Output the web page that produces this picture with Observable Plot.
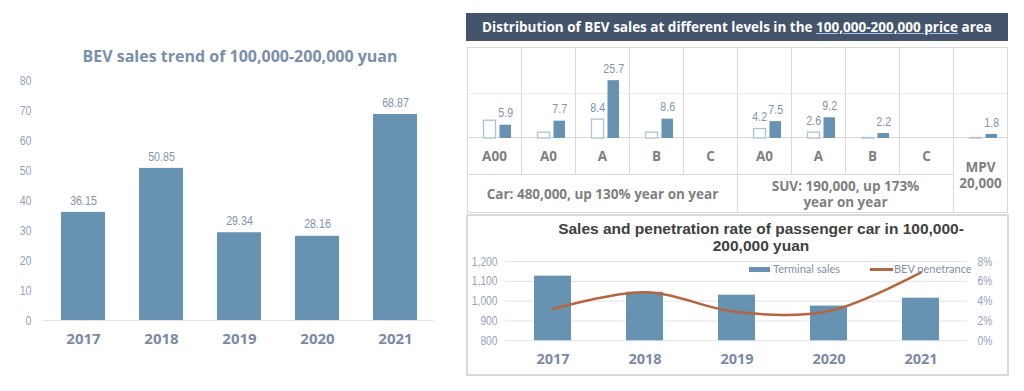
<!DOCTYPE html>
<html><head><meta charset="utf-8">
<script src="https://cdn.jsdelivr.net/npm/d3@7"></script>
<script src="https://cdn.jsdelivr.net/npm/@observablehq/plot@0.6"></script>
<style>
body{margin:0;width:1024px;height:391px;background:#fff;position:relative;overflow:hidden;font-family:"Open Sans",sans-serif;}
svg{overflow:visible;}
.cell{background:#fff;color:#7f7f7f;font:bold 13.5px "Open Sans",sans-serif;display:flex;align-items:center;justify-content:center;text-align:center;white-space:pre-line;line-height:16px;}
</style></head><body>
<script>
// ---------- data ----------
const years = ["2017", "2018", "2019", "2020", "2021"];
const bevSales = [36.15, 50.85, 29.34, 28.16, 68.87];
const leftTicks = [0, 10, 20, 30, 40, 50, 60, 70, 80];

const distCategories = ["A00", "A0", "A", "B", "C", "A0", "A", "B", "C", "MPV"];
const distGroups = ["Car", "Car", "Car", "Car", "Car", "SUV", "SUV", "SUV", "SUV", "MPV"];
const distPrev = [7.9, 2.6, 8.4, 2.6, 0, 4.2, 2.6, 0.2, 0, 0.2];
const distCurr = [5.9, 7.7, 25.7, 8.6, 0, 7.5, 9.2, 2.2, 0, 1.8];
const distPrevLabels = ["", "", "8.4", "", "", "4.2", "2.6", "", "", ""];
const groupNames = ["Car", "SUV", "MPV"];
const groupTexts = ["Car: 480,000, up 130% year on year", "SUV: 190,000, up 173%\nyear on year", "MPV\n20,000"];
const headerText = ["Distribution of BEV sales at different levels in the ", "100,000-200,000 price", " area"];

const terminalSales = [1126, 1045, 1030, 975, 1015];
const bevPenetration = [3.2, 4.9, 2.9, 3.0, 6.9];
const salesTicks = [800, 900, 1000, 1100, 1200];
const pctTicks = [0, 2, 4, 6, 8];

// ---------- styles ----------
const SANS = '"Liberation Sans",Arial,sans-serif';
const BOLD = '"Open Sans",sans-serif';
const BAR = "#6792b1";
const TICK = "#94a3ba";
const VAL = "#8193ad";
const YEAR = "#7b8aa6";

function place(el, css) {
  Object.assign(el.style, {position: "absolute"}, css);
  document.body.appendChild(el);
  return el;
}
function div(css, text) {
  const d = document.createElement("div");
  if (text != null) d.textContent = text;
  return place(d, css);
}
// condense the regular (non-bold) numeric labels, like a narrow face (after attaching)
function condense(svg, k = 0.82) {
  svg.querySelectorAll("text").forEach(t => {
    if (t.closest('[font-weight="bold"]')) return;
    const L = t.getComputedTextLength();
    if (L > 0) {
      t.setAttribute("textLength", (L * k).toFixed(2));
      t.setAttribute("lengthAdjust", "spacingAndGlyphs");
    }
  });
  return svg;
}

// ---------- left chart ----------
div({left: "0px", top: "45px", width: "480px", textAlign: "center", font: "bold 16px " + BOLD, color: "#7b8faa", lineHeight: "22px"},
  "BEV sales trend of 100,000-200,000 yuan");

const leftData = years.map((y, i) => ({year: y, value: bevSales[i]}));
const left = Plot.plot({
  width: 440, height: 290,
  marginTop: 20.7, marginBottom: 30, marginLeft: 43, marginRight: 6,
  style: {fontFamily: SANS, background: "transparent", overflow: "visible"},
  x: {domain: years, paddingInner: 0.437, paddingOuter: 0.2185},
  y: {domain: [0, 80]},
  marks: [
    Plot.ruleY([0], {stroke: "#dfe3e9"}),
    Plot.barY(leftData, {x: "year", y: "value", fill: BAR}),
    Plot.text(leftData, {x: "year", y: "value", text: d => d.value.toFixed(2), dy: -12, fill: VAL, fontSize: 13}),
    Plot.axisY({ticks: leftTicks, tickSize: 0, tickPadding: 12, fill: TICK, fontSize: 13, label: null}),
    Plot.axisX({tickSize: 0, tickPadding: 13, fill: YEAR, fontSize: 15, fontWeight: "bold", fontFamily: BOLD, label: null})
  ]
});
condense(place(left, {left: "0px", top: "60px"}));

// ---------- right top: header ----------
const header = div({left: "466px", top: "13px", width: "542px", height: "28px", background: "#44546a", color: "#fff",
  font: "bold 13.5px " + BOLD, lineHeight: "28px", textAlign: "center", whiteSpace: "nowrap"});
headerText.forEach((t, i) => {
  const s = document.createElement("span");
  s.textContent = t;
  if (i === 1) { s.style.textDecoration = "underline"; s.style.textDecorationColor = "#a9c4eb"; }
  header.appendChild(s);
});

// ---------- right top: table grid ----------
const grid = div({left: "467px", top: "47px", display: "grid",
  gridTemplateColumns: "repeat(10, 53px)", gridTemplateRows: "89px 36px 37px",
  gap: "1px", background: "#d9d9d9", border: "1px solid #d9d9d9"});
function cell(col, row, text) {
  const c = document.createElement("div");
  c.className = "cell";
  c.style.gridColumn = col;
  c.style.gridRow = row;
  if (text) c.textContent = text;
  grid.appendChild(c);
}
distCategories.forEach((c, i) => cell(String(i + 1), "1"));
distCategories.forEach((c, i) => { if (distGroups[i] !== "MPV") cell(String(i + 1), "2", c); });
groupNames.forEach((g, gi) => {
  const idx = distGroups.map((d, i) => d === g ? i : -1).filter(i => i >= 0);
  const colSpan = (idx[0] + 1) + " / " + (idx[idx.length - 1] + 2);
  if (g === "MPV") cell(colSpan, "2 / 4", groupTexts[gi]);
  else cell(colSpan, "3", groupTexts[gi]);
});

const distRows = distCategories.map((c, i) => ({i, cat: c, prev: distPrev[i], curr: distCurr[i], prevLabel: distPrevLabels[i]}));
const dist = Plot.plot({
  width: 540, height: 90, margin: 0,
  style: {fontFamily: SANS, background: "transparent", overflow: "visible"},
  x: {domain: d3.range(10), padding: 0, axis: null},
  y: {domain: [0, 40], axis: null},
  marks: [
    Plot.ruleY([20], {stroke: "#ececec"}),
    Plot.barY(distRows.filter(d => d.prev > 0), {x: "i", y: "prev", fill: "white", stroke: "#a9c4d8", strokeWidth: 1.3, insetLeft: 16.5, insetRight: 25.5}),
    Plot.barY(distRows.filter(d => d.curr > 0), {x: "i", y: "curr", fill: BAR, insetLeft: 32.5, insetRight: 10}),
    Plot.text(distRows.filter(d => d.curr > 0), {x: "i", y: "curr", text: d => d.curr.toFixed(1), dx: 11.25, dy: -12, fill: VAL, fontSize: 13}),
    Plot.text(distRows.filter(d => d.prevLabel), {x: "i", y: "prev", text: "prevLabel", dx: -4.75, dy: -12, fill: VAL, fontSize: 13})
  ]
});
condense(place(dist, {left: "467px", top: "48px", pointerEvents: "none"}));

// ---------- right bottom chart ----------
div({left: "466px", top: "214px", width: "543px", height: "162px", border: "2px solid #d9d9d9", boxSizing: "border-box"});
div({left: "461px", top: "220px", width: "600px", textAlign: "center", font: 'bold 15.5px "Liberation Sans",Arial,sans-serif',
  color: "#404040", lineHeight: "17px", whiteSpace: "pre-line"},
  "Sales and penetration rate of passenger car in 100,000-\n200,000 yuan");

const toAxis = p => 800 + p * 50;
const bottomData = years.map((y, i) => ({year: y, sales: terminalSales[i], pen: bevPenetration[i]}));
const bottom = Plot.plot({
  width: 540, height: 120,
  marginTop: 11, marginBottom: 29.7, marginLeft: 37, marginRight: 41,
  style: {fontFamily: SANS, background: "transparent", overflow: "visible"},
  x: {domain: years, paddingInner: 0.6, paddingOuter: 0.3},
  y: {domain: [800, 1200]},
  marks: [
    Plot.gridY({ticks: salesTicks, stroke: "#dfe4ec", strokeOpacity: 1}),
    Plot.barY(bottomData, {x: "year", y1: 800, y2: "sales", fill: BAR}),
    Plot.line(bottomData, {x: "year", y: d => toAxis(d.pen), stroke: "#b5653f", strokeWidth: 2.5, curve: "catmull-rom"}),
    Plot.axisY({ticks: salesTicks, tickFormat: d3.format(","), tickSize: 0, tickPadding: 8, fill: TICK, fontSize: 12.5, label: null}),
    Plot.axisY({anchor: "right", ticks: pctTicks.map(toAxis), tickFormat: d => Math.round((d - 800) / 50) + "%", tickSize: 0, tickPadding: 10, fill: TICK, fontSize: 12.5, label: null}),
    Plot.axisX({tickSize: 0, tickPadding: 13, fill: YEAR, fontSize: 14.5, fontWeight: "bold", fontFamily: BOLD, label: null})
  ]
});
condense(place(bottom, {left: "468px", top: "250px"}));

// legend
div({left: "749px", top: "267px", width: "21px", height: "5px", background: BAR});
div({left: "773px", top: "261px", font: '11px Lato,sans-serif', color: "#7f8fa9", lineHeight: "16px", whiteSpace: "nowrap"}, "Terminal sales");
div({left: "870px", top: "268px", width: "23px", height: "2.5px", background: "#b5653f"});
div({left: "894px", top: "261px", font: '11px Lato,sans-serif', color: "#7f8fa9", lineHeight: "16px", whiteSpace: "nowrap"}, "BEV penetrance");
</script>
</body></html>
